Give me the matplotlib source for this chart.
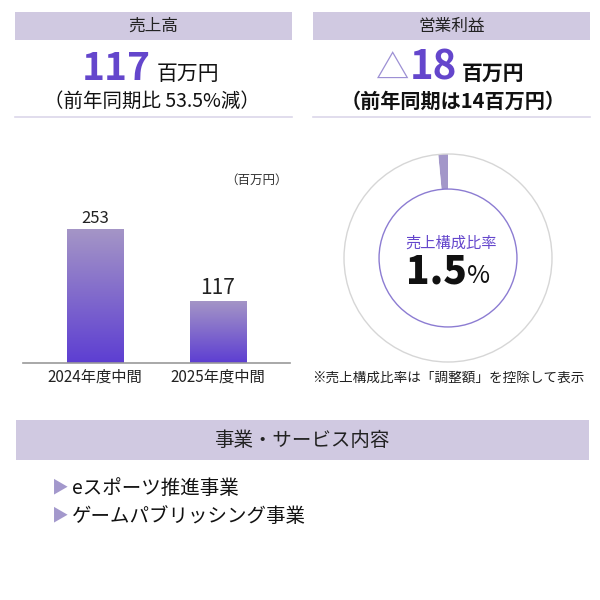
import numpy as np
import matplotlib
matplotlib.use('Agg')
import matplotlib.pyplot as plt
from matplotlib.patches import Rectangle, Circle

plt.rcParams['font.family'] = ['Noto Sans CJK JP', 'DejaVu Sans']

# data
categories = ['2024年度中間', '2025年度中間']
sales = [253, 117]
bar_label_sizes = [12, 15]
share_pct = 1.5
sales_now = '117'
sales_note = '（前年同期比 53.5%減）'
op_profit = '18'
op_note = '（前年同期は14百万円）'
services = ['eスポーツ推進事業', 'ゲームパブリッシング事業']

HEAD = '#d0c9e1'
PURPLE = '#6446cc'
LAV = '#a397c9'
W, H = 600, 600

fig = plt.figure(figsize=(6, 6), dpi=100)


def frac(x0, y0, w, h):
    # pixel box (top-left origin) -> figure fraction
    return [x0 / W, 1 - (y0 + h) / H, w / W, h / H]


# overlay axes in pixel coordinates
ax0 = fig.add_axes([0, 0, 1, 1], zorder=10)
ax0.set_xlim(0, W)
ax0.set_ylim(H, 0)
ax0.axis('off')

# header boxes
for x0, title in [(15, '売上高'), (313, '営業利益')]:
    ax0.add_patch(Rectangle((x0, 12), 277, 28, color=HEAD, lw=0))
    ax0.text(x0 + 138.5, 26, title, ha='center', va='center', fontsize=12, color='#222222')
    ax0.plot([x0, x0 + 277], [117, 117], color='#dcd7ea', lw=1.2)

# sales figure
ax0.text(151, 80, sales_now, ha='right', va='baseline', fontsize=28,
         fontweight='bold', color=PURPLE)
ax0.text(157, 80, '百万円', ha='left', va='baseline', fontsize=15, color='#111111')
ax0.text(152, 101, sales_note, ha='center', va='center', fontsize=14, color='#111111')

# operating profit figure
ax0.text(409, 80, '△', ha='right', va='baseline', fontsize=24, color='#9d90d4')
ax0.text(410, 80, op_profit, ha='left', va='baseline', fontsize=29,
         fontweight='bold', color=PURPLE)
ax0.text(462, 80, '百万円', ha='left', va='baseline', fontsize=15,
         fontweight='bold', color='#111111')
ax0.text(453, 101, op_note, ha='center', va='center', fontsize=14.5,
         fontweight='bold', color='#111111')

# bar chart
axb = fig.add_axes(frac(23, 160, 267, 203))
x = np.arange(len(categories))
bars = axb.bar(x, sales, width=0.46, color='none', edgecolor='none')
grad = np.linspace(0, 1, 256).reshape(-1, 1)
cmap = matplotlib.colors.LinearSegmentedColormap.from_list('g', ['#5d3ed2', '#a596c6'])
for b in bars:
    bx, by = b.get_x(), b.get_y()
    im = axb.imshow(grad, cmap=cmap, origin='lower', aspect='auto',
                    extent=[bx, bx + b.get_width(), by, by + b.get_height()], zorder=2)
    im.set_clip_path(b)
for xi, v, fs in zip(x, sales, bar_label_sizes):
    axb.text(xi, v + 4, str(v), ha='center', va='bottom', fontsize=fs, color='#222222')
axb.set_xlim(-0.585, 1.585)
axb.set_ylim(0, 383)
for s in ['top', 'right', 'left']:
    axb.spines[s].set_visible(False)
axb.spines['bottom'].set_color('#999999')
axb.spines['bottom'].set_linewidth(1.2)
axb.set_yticks([])
axb.set_xticks(x)
axb.set_xticklabels(categories, fontsize=11, color='#222222')
axb.tick_params(axis='x', length=0, pad=4)
axb.patch.set_alpha(0)
ax0.text(288, 180, '（百万円）', ha='right', va='center', fontsize=9, color='#333333')

# donut
axd = fig.add_axes(frac(448 - 110, 258 - 110, 220, 220))
axd.pie([share_pct, 100 - share_pct], radius=1, startangle=90, counterclock=True,
        colors=[LAV, 'white'], wedgeprops=dict(width=0.337, edgecolor='none'))
axd.add_patch(Circle((0, 0), 1, fill=False, edgecolor='#d6d6d6', lw=1))
axd.add_patch(Circle((0, 0), 0.663, fill=False, edgecolor='#8c7cd2', lw=1))
axd.set_xlim(-110 / 104, 110 / 104)
axd.set_ylim(-110 / 104, 110 / 104)
axd.set_aspect('equal')
axd.axis('off')

ax0.text(451, 243, '売上構成比率', ha='center', va='center', fontsize=11, color=PURPLE)
ax0.text(467, 283, '1.5', ha='right', va='baseline', fontsize=28,
         fontweight='heavy', color='#111111')
ax0.text(467, 283, '%', ha='left', va='baseline', fontsize=18, color='#111111')
ax0.text(448, 378, '※売上構成比率は「調整額」を控除して表示', ha='center', va='center',
         fontsize=9.8, color='#222222')

# services
ax0.add_patch(Rectangle((16, 420), 573, 40, color=HEAD, lw=0))
ax0.text(302, 441, '事業・サービス内容', ha='center', va='center', fontsize=14, color='#222222')
for i, s in enumerate(services):
    yy = 488 + i * 28
    ax0.text(69, yy, '▶', ha='right', va='center', fontsize=12, color='#a398cc')
    ax0.text(72, yy, s, ha='left', va='center', fontsize=14, color='#111111')

fig.savefig('out.png', dpi=100, facecolor='white')
